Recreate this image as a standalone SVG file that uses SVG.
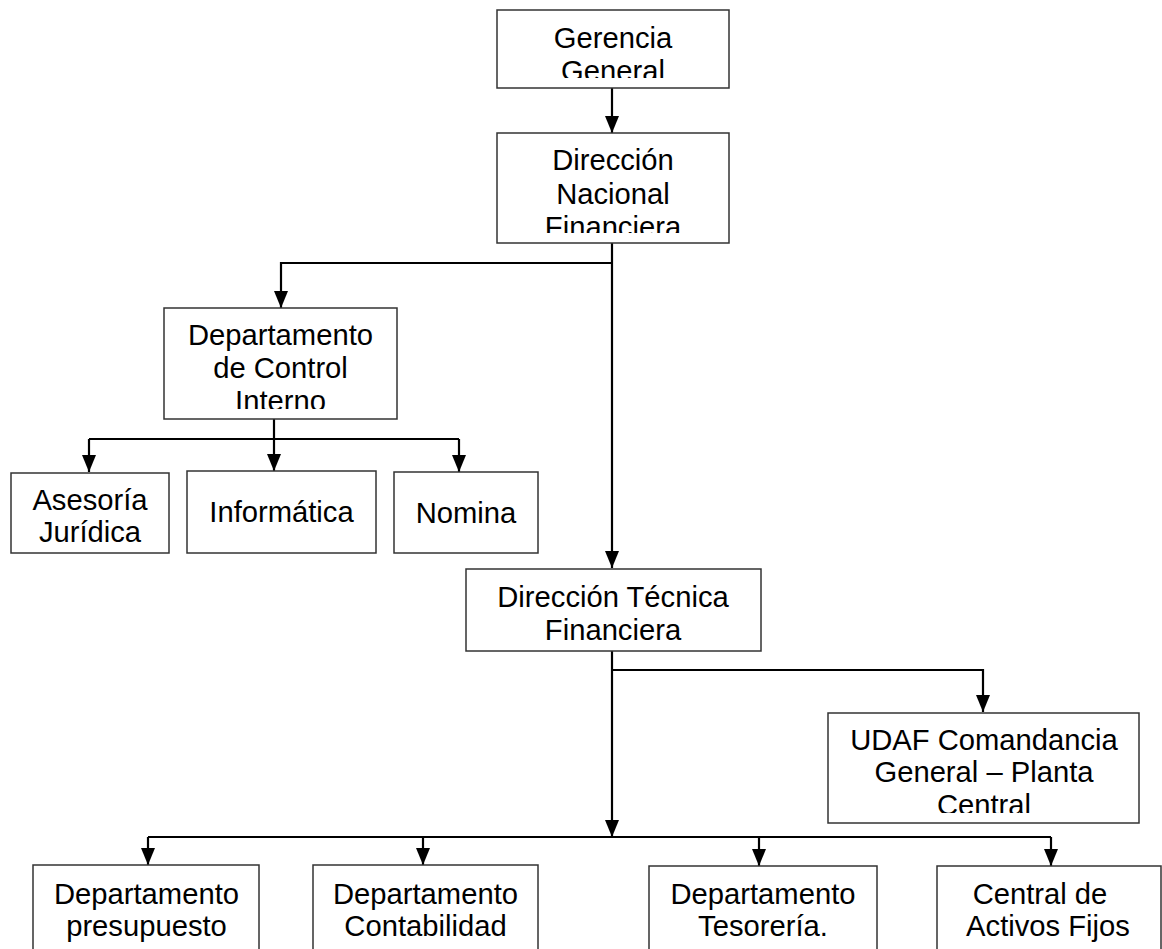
<svg xmlns="http://www.w3.org/2000/svg" width="1162" height="949" viewBox="0 0 1162 949">
<style>
.box{fill:#fff;stroke:#333;stroke-width:1.5}
.t{font-family:"Liberation Sans",Arial,sans-serif;font-size:29.2px;fill:#000;text-anchor:middle}
.c{fill:none;stroke:#000;stroke-width:2.2}
</style>
<defs>
<marker id="ah" markerUnits="userSpaceOnUse" markerWidth="18" markerHeight="15" refX="17" refY="7" orient="auto">
<path d="M0,0 L17,7 L0,14 z" fill="#000"/>
</marker>
<clipPath id="cGG"><rect x="497" y="10" width="232" height="68"/></clipPath>
<clipPath id="cDNF"><rect x="497" y="133" width="232" height="100"/></clipPath>
<clipPath id="cDCI"><rect x="164" y="308" width="233" height="101"/></clipPath>
<clipPath id="cUDAF"><rect x="828" y="713" width="311" height="100"/></clipPath>
</defs>
<rect width="1162" height="949" fill="#fff"/>
<g id="connectors">
<path class="c" d="M612,88 V133" marker-end="url(#ah)"/>
<path class="c" d="M612,243 V568" marker-end="url(#ah)"/>
<path class="c" d="M612,263 H281 V308" marker-end="url(#ah)"/>
<path class="c" d="M274,419 V471" marker-end="url(#ah)"/>
<path class="c" d="M89,439 H459"/>
<path class="c" d="M89,439 V472" marker-end="url(#ah)"/>
<path class="c" d="M459,439 V472" marker-end="url(#ah)"/>
<path class="c" d="M612,651 V837" marker-end="url(#ah)"/>
<path class="c" d="M612,670 H983 V712" marker-end="url(#ah)"/>
<path class="c" d="M148,837 H1051"/>
<path class="c" d="M148,837 V865" marker-end="url(#ah)"/>
<path class="c" d="M423,837 V865" marker-end="url(#ah)"/>
<path class="c" d="M759,837 V866" marker-end="url(#ah)"/>
<path class="c" d="M1051,837 V866" marker-end="url(#ah)"/>
</g>
<g id="gerencia">
<rect class="box" x="497" y="10" width="232" height="78"/>
<g clip-path="url(#cGG)"><text class="t" x="613" y="48">Gerencia</text><text class="t" x="613" y="81">General</text></g>
</g>
<g id="dnf">
<rect class="box" x="497" y="133" width="232" height="110"/>
<g clip-path="url(#cDNF)"><text class="t" x="613" y="170">Dirección</text><text class="t" x="613" y="204">Nacional</text><text class="t" x="613" y="237">Financiera</text></g>
</g>
<g id="dci">
<rect class="box" x="164" y="308" width="233" height="111"/>
<g clip-path="url(#cDCI)"><text class="t" x="280.5" y="345">Departamento</text><text class="t" x="280.5" y="378">de Control</text><text class="t" x="280.5" y="411">Interno</text></g>
</g>
<g id="asesoria">
<rect class="box" x="11" y="473" width="158" height="80"/>
<text class="t" x="90" y="510">Asesoría</text><text class="t" x="90" y="542">Jurídica</text>
</g>
<g id="informatica">
<rect class="box" x="187" y="471" width="189" height="82"/>
<text class="t" x="281.5" y="522">Informática</text>
</g>
<g id="nomina">
<rect class="box" x="394" y="472" width="144" height="81"/>
<text class="t" x="466" y="523">Nomina</text>
</g>
<g id="dtf">
<rect class="box" x="466" y="569" width="295" height="82"/>
<text class="t" x="613" y="607">Dirección Técnica</text><text class="t" x="613" y="640">Financiera</text>
</g>
<g id="udaf">
<rect class="box" x="828" y="713" width="311" height="110"/>
<g clip-path="url(#cUDAF)"><text class="t" x="984" y="750">UDAF Comandancia</text><text class="t" x="984" y="782">General – Planta</text><text class="t" x="984" y="815">Central</text></g>
</g>
<g id="presupuesto">
<rect class="box" x="33" y="865" width="226" height="100"/>
<text class="t" x="146.5" y="904">Departamento</text><text class="t" x="146.5" y="936">presupuesto</text>
</g>
<g id="contabilidad">
<rect class="box" x="313" y="865" width="225" height="100"/>
<text class="t" x="425.5" y="904">Departamento</text><text class="t" x="425.5" y="936">Contabilidad</text>
</g>
<g id="tesoreria">
<rect class="box" x="649" y="866" width="228" height="100"/>
<text class="t" x="763" y="904">Departamento</text><text class="t" x="763" y="936">Tesorería.</text>
</g>
<g id="activos">
<rect class="box" x="937" y="866" width="224" height="100"/>
<text class="t" x="1040" y="904">Central de</text><text class="t" x="1048" y="936">Activos Fijos</text>
</g>
</svg>
